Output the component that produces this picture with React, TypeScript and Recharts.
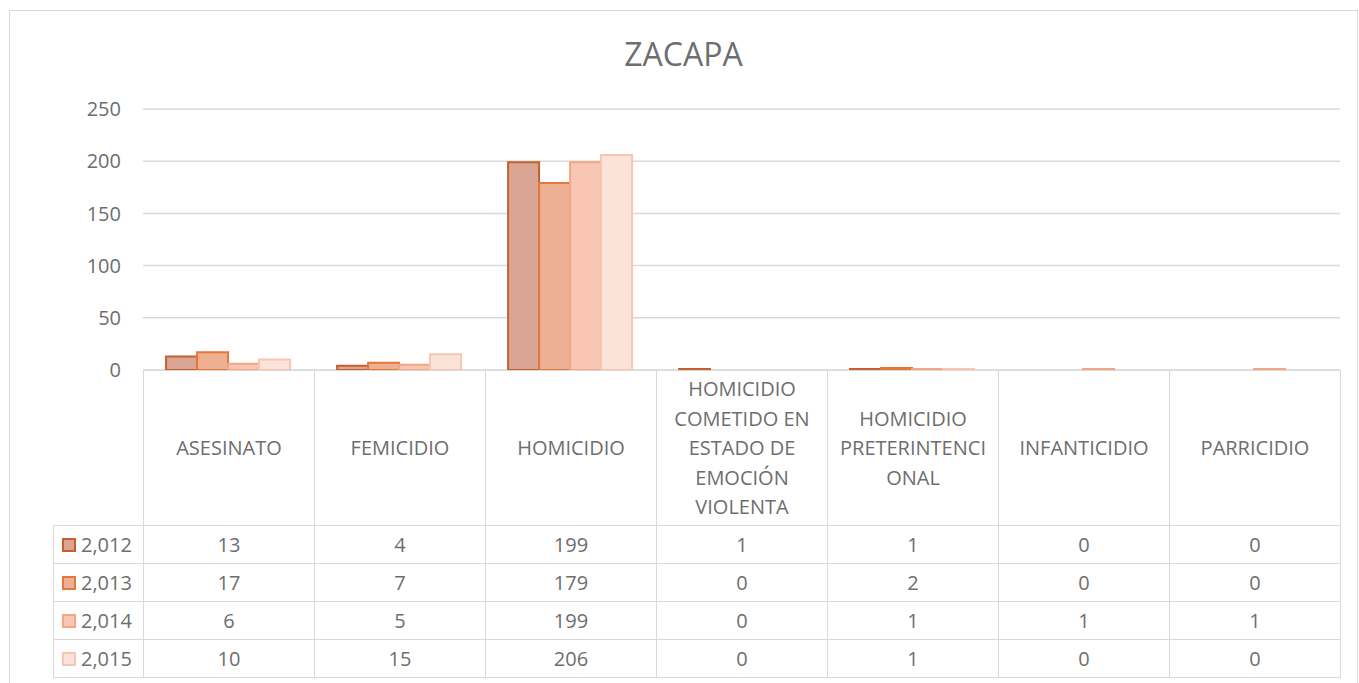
import React from "react";
import { BarChart, Bar, XAxis, YAxis, CartesianGrid } from "recharts";

const CATEGORIES = [
  "ASESINATO",
  "FEMICIDIO",
  "HOMICIDIO",
  "HOMICIDIO COMETIDO EN ESTADO DE EMOCIÓN VIOLENTA",
  "HOMICIDIO PRETERINTENCIONAL",
  "INFANTICIDIO",
  "PARRICIDIO",
];
// how Excel wrapped the category labels in the table header
const HEADER_LINES = [
  ["ASESINATO"],
  ["FEMICIDIO"],
  ["HOMICIDIO"],
  ["HOMICIDIO", "COMETIDO EN", "ESTADO DE", "EMOCIÓN", "VIOLENTA"],
  ["HOMICIDIO", "PRETERINTENCI", "ONAL"],
  ["INFANTICIDIO"],
  ["PARRICIDIO"],
];
const SERIES = ["2,012", "2,013", "2,014", "2,015"];
const Y2012 = [13, 4, 199, 1, 1, 0, 0];
const Y2013 = [17, 7, 179, 0, 2, 0, 0];
const Y2014 = [6, 5, 199, 0, 1, 1, 1];
const Y2015 = [10, 15, 206, 0, 1, 0, 0];
const Y_TICKS = [0, 50, 100, 150, 200, 250];

const FILLS = ["#DBA595", "#EDB092", "#F8C6B2", "#FCE3D9"];
const STROKES = ["#C2612A", "#E2793A", "#F3A585", "#F6C6B3"];

const VALUES = [Y2012, Y2013, Y2014, Y2015];
const data = CATEGORIES.map((name, i) => ({
  name,
  s0: Y2012[i],
  s1: Y2013[i],
  s2: Y2014[i],
  s3: Y2015[i],
}));

const FONT = "'Open Sans', 'Noto Sans', sans-serif";
const TEXT = "#6E6E6E";
const GRID = "#D9D9D9";

const PLOT_LEFT = 143;
const PLOT_RIGHT = 1340;
const ZERO_Y = 370;
const COL_W = (PLOT_RIGHT - PLOT_LEFT) / CATEGORIES.length;
const HEAD_H = 155;
const ROW_H = 38;
const LEGEND_LEFT = 53;

function Cell({ left, top, width, height, children, align = "center" }: any) {
  return (
    <div
      style={{
        position: "absolute",
        left,
        top,
        width,
        height,
        boxSizing: "border-box",
        border: `1px solid ${GRID}`,
        display: "flex",
        flexDirection: "column",
        alignItems: align,
        justifyContent: "center",
        color: TEXT,
        fontSize: 20,
        lineHeight: "29.5px",
        textAlign: "center",
        whiteSpace: "nowrap",
      }}
    >
      {children}
    </div>
  );
}

export default function App() {
  return (
    <div
      style={{
        position: "absolute",
        left: 0,
        top: 0,
        width: 1359,
        height: 683,
        overflow: "hidden",
        background: "#fff",
        fontFamily: FONT,
      }}
    >
      <div
        style={{
          position: "absolute",
          left: 9,
          top: 10,
          width: 1349,
          height: 700,
          boxSizing: "border-box",
          border: `1px solid ${GRID}`,
        }}
      />
      <div
        style={{
          position: "absolute",
          left: 9,
          width: 1349,
          top: 32,
          textAlign: "center",
          fontSize: 32,
          color: TEXT,
        }}
      >
        ZACAPA
      </div>
      <div style={{ position: "absolute", left: 0, top: 0 }}>
        <BarChart
          width={1359}
          height={683}
          data={data}
          margin={{ top: 109, right: 1359 - PLOT_RIGHT, bottom: 683 - ZERO_Y, left: 0 }}
          barGap={0}
          barCategoryGap="13.5%"
        >
          <CartesianGrid vertical={false} stroke={GRID} strokeWidth={1.5} />
          <XAxis dataKey="name" hide />
          <YAxis
            width={PLOT_LEFT}
            domain={[0, 250]}
            ticks={Y_TICKS}
            axisLine={false}
            tickLine={false}
            tickMargin={16}
            tick={{ fill: TEXT, fontSize: 20, fontFamily: FONT }}
          />
          {SERIES.map((s, i) => (
            <Bar
              key={s}
              dataKey={`s${i}`}
              name={s}
              fill={FILLS[i]}
              stroke={STROKES[i]}
              strokeWidth={2}
              isAnimationActive={false}
            />
          ))}
        </BarChart>
      </div>
      {HEADER_LINES.map((lines, c) => (
        <Cell
          key={`h${c}`}
          left={PLOT_LEFT + c * COL_W}
          top={ZERO_Y}
          width={COL_W + 1}
          height={HEAD_H + 1}
        >
          {lines.map((l) => (
            <div key={l}>{l}</div>
          ))}
        </Cell>
      ))}
      {SERIES.map((s, r) => (
        <React.Fragment key={s}>
          <Cell
            left={LEGEND_LEFT}
            top={ZERO_Y + HEAD_H + r * ROW_H}
            width={PLOT_LEFT - LEGEND_LEFT + 1}
            height={ROW_H + 1}
            align="flex-start"
          >
            <div style={{ display: "flex", alignItems: "center", paddingLeft: 8 }}>
              <span
                style={{
                  display: "inline-block",
                  width: 14,
                  height: 14,
                  boxSizing: "border-box",
                  background: FILLS[r],
                  border: `2px solid ${STROKES[r]}`,
                  marginRight: 5,
                }}
              />
              {s}
            </div>
          </Cell>
          {VALUES[r].map((v, c) => (
            <Cell
              key={`${s}-${c}`}
              left={PLOT_LEFT + c * COL_W}
              top={ZERO_Y + HEAD_H + r * ROW_H}
              width={COL_W + 1}
              height={ROW_H + 1}
            >
              {v}
            </Cell>
          ))}
        </React.Fragment>
      ))}
    </div>
  );
}
